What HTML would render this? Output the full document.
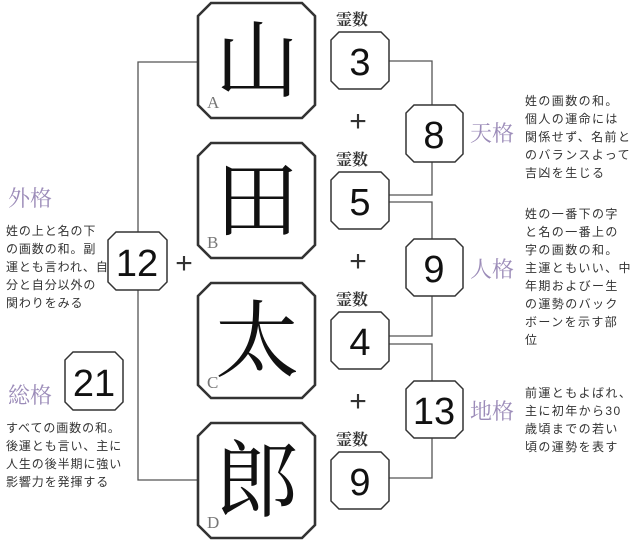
<!DOCTYPE html>
<html><head><meta charset="utf-8"><style>
html,body{margin:0;padding:0;background:#fff;}
svg{display:block;}
.t{font-family:"Liberation Sans","Noto Sans CJK JP",sans-serif;font-size:12px;fill:#333;letter-spacing:1.4px;}
.tl{letter-spacing:0.9px;}
.p{font-family:"Noto Serif CJK SC","Noto Serif CJK JP",serif;font-size:22px;fill:#9b8bb8;}
.n{font-family:"Liberation Sans",sans-serif;fill:#111;text-anchor:middle;}
.k{font-family:"Noto Serif CJK SC","Noto Serif CJK JP",serif;font-size:84px;fill:#111;text-anchor:middle;}
.l{font-family:"Liberation Serif",serif;font-size:17px;fill:#777;}
.r{font-family:"Noto Serif CJK SC","Noto Serif CJK JP",serif;font-size:16px;fill:#333;font-weight:bold;}
.pl{font-family:"Liberation Sans",sans-serif;font-size:30px;fill:#333;text-anchor:middle;}
</style></head><body>
<svg width="630" height="544" viewBox="0 0 630 544" xmlns="http://www.w3.org/2000/svg">
<g fill="none" stroke="#555" stroke-width="1.3">
<polyline points="198,62 138,62 138,232"/>
<polyline points="138,290 138,480 198,480"/>
<polyline points="389,61 432,61 432,105"/>
<polyline points="432,162 432,195 389,195"/>
<polyline points="389,202 432,202 432,239"/>
<polyline points="432,296 432,336 389,336"/>
<polyline points="389,344 432,344 432,381"/>
<polyline points="432,438 432,478 389,478"/>
</g>
<g fill="#fff" stroke="#333" stroke-width="2.6">
<polygon points="211,3 302,3 315,16 315,105 302,118 211,118 198,105 198,16"/>
<polygon points="211,143 302,143 315,156 315,245 302,258 211,258 198,245 198,156"/>
<polygon points="211,283 302,283 315,296 315,385 302,398 211,398 198,385 198,296"/>
<polygon points="211,423 302,423 315,436 315,525 302,538 211,538 198,525 198,436"/>
</g>
<g fill="#fff" stroke="#333" stroke-width="1.5">
<polygon points="339,32 381,32 389,40 389,81 381,89 339,89 331,81 331,40"/>
<polygon points="339,172 381,172 389,180 389,221 381,229 339,229 331,221 331,180"/>
<polygon points="339,312 381,312 389,320 389,361 381,369 339,369 331,361 331,320"/>
<polygon points="339,452 381,452 389,460 389,501 381,509 339,509 331,501 331,460"/>
<polygon points="414,105 455,105 463,113 463,154 455,162 414,162 406,154 406,113"/>
<polygon points="414,239 455,239 463,247 463,288 455,296 414,296 406,288 406,247"/>
<polygon points="414,381 455,381 463,389 463,430 455,438 414,438 406,430 406,389"/>
<polygon points="116,232 159,232 167,240 167,282 159,290 116,290 108,282 108,240"/>
<polygon points="73,352 115,352 123,360 123,402 115,410 73,410 65,402 65,360"/>
</g>
<text class="k" x="257" y="90">山</text>
<text class="k" x="257" y="230">田</text>
<text class="k" x="257" y="370">太</text>
<text class="k" x="257" y="510">郎</text>
<text class="l" x="207" y="108">A</text>
<text class="l" x="207" y="248">B</text>
<text class="l" x="207" y="388">C</text>
<text class="l" x="207" y="528">D</text>
<text class="r" x="336" y="25">霊数</text>
<text class="r" x="336" y="165">霊数</text>
<text class="r" x="336" y="305">霊数</text>
<text class="r" x="336" y="445">霊数</text>
<text class="pl" x="358" y="131">+</text>
<text class="pl" x="358" y="271">+</text>
<text class="pl" x="358" y="411">+</text>
<text class="pl" x="184" y="273">+</text>
<g class="n" font-size="38">
<text x="360" y="75">3</text><text x="360" y="215">5</text><text x="360" y="355">4</text><text x="360" y="495">9</text>
<text x="434" y="148">8</text><text x="434" y="282">9</text><text x="434" y="424">13</text>
<text x="137" y="276">12</text><text x="94" y="396">21</text>
</g>
<text class="p" x="470" y="141">天格</text>
<text class="p" x="470" y="277">人格</text>
<text class="p" x="470" y="419">地格</text>
<text class="p" x="8" y="206">外格</text>
<text class="p" x="8" y="403">総格</text>
<g class="t">
<text x="525" y="105">姓の画数の和。</text>
<text x="525" y="123">個人の運命には</text>
<text x="525" y="141">関係せず、名前と</text>
<text x="525" y="159">のバランスよって</text>
<text x="525" y="177">吉凶を生じる</text>
<text x="525" y="218">姓の一番下の字</text>
<text x="525" y="236">と名の一番上の</text>
<text x="525" y="254">字の画数の和。</text>
<text x="525" y="272">主運ともいい、中</text>
<text x="525" y="290">年期およびー生</text>
<text x="525" y="308">の運勢のバック</text>
<text x="525" y="326">ボーンを示す部</text>
<text x="525" y="344">位</text>
<text x="525" y="397">前運ともよばれ、</text>
<text x="525" y="415">主に初年から30</text>
<text x="525" y="433">歳頃までの若い</text>
<text x="525" y="451">頃の運勢を表す</text>
</g>
<g class="t tl">
<text x="6" y="235">姓の上と名の下</text>
<text x="6" y="253">の画数の和。副</text>
<text x="6" y="271">運とも言われ、自</text>
<text x="6" y="289">分と自分以外の</text>
<text x="6" y="307">関わりをみる</text>
<text x="6" y="432">すべての画数の和。</text>
<text x="6" y="450">後運とも言い、主に</text>
<text x="6" y="468">人生の後半期に強い</text>
<text x="6" y="486">影響力を発揮する</text>
</g>
</svg>
</body></html>
